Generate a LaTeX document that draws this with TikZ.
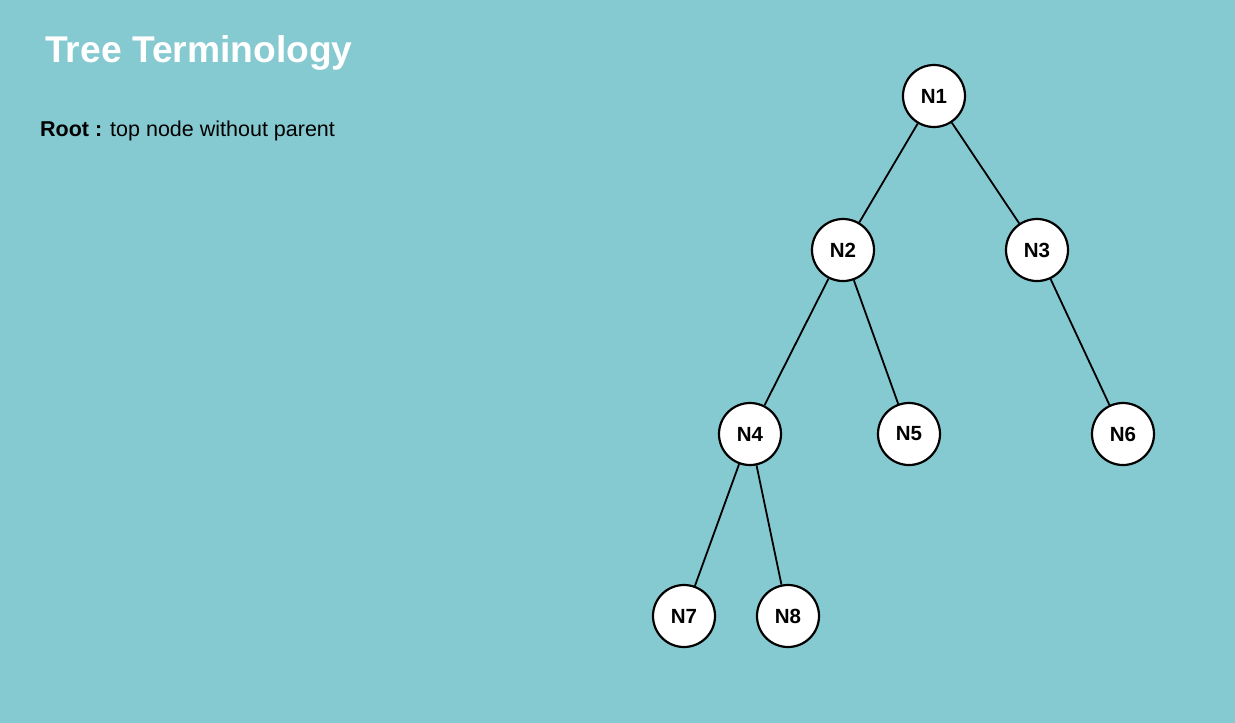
\documentclass[tikz,border=0pt]{standalone}
\usepackage{fontspec}
\setmainfont{Liberation Sans}
\definecolor{bgteal}{RGB}{133,201,209}
\begin{document}
\begin{tikzpicture}[x=1pt,y=-1pt,
  tnode/.style={circle,draw=black,fill=white,line width=2.2pt,minimum size=62pt,inner sep=0pt,font=\fontsize{20.5}{24}\selectfont\bfseries},
  tedge/.style={line width=1.8pt}]
\fill[bgteal] (0,0) rectangle (1235,723);
\useasboundingbox (0,0) rectangle (1235,723);
\node[anchor=base west,text=white,font=\fontsize{37.2}{42}\selectfont\bfseries,inner sep=0pt] (title) at (45,62) {Tree Terminology};
\node[anchor=base west,text=black,font=\fontsize{21.5}{25}\selectfont,inner sep=0pt] (root) at (40,136) {\textbf{Root :} top node without parent};
\node[tnode] (n1) at (934,96) {N1};
\node[tnode] (n2) at (843,250) {N2};
\node[tnode] (n3) at (1037,250) {N3};
\node[tnode] (n4) at (750,434) {N4};
\node[tnode] (n5) at (909,434) {N5};
\node[tnode] (n6) at (1123,434) {N6};
\node[tnode] (n7) at (684,616) {N7};
\node[tnode] (n8) at (788,616) {N8};
\draw[tedge] (n1) -- (n2);
\draw[tedge] (n1) -- (n3);
\draw[tedge] (n2) -- (n4);
\draw[tedge] (n2) -- (n5);
\draw[tedge] (n3) -- (n6);
\draw[tedge] (n4) -- (n7);
\draw[tedge] (n4) -- (n8);
\end{tikzpicture}
\end{document}
